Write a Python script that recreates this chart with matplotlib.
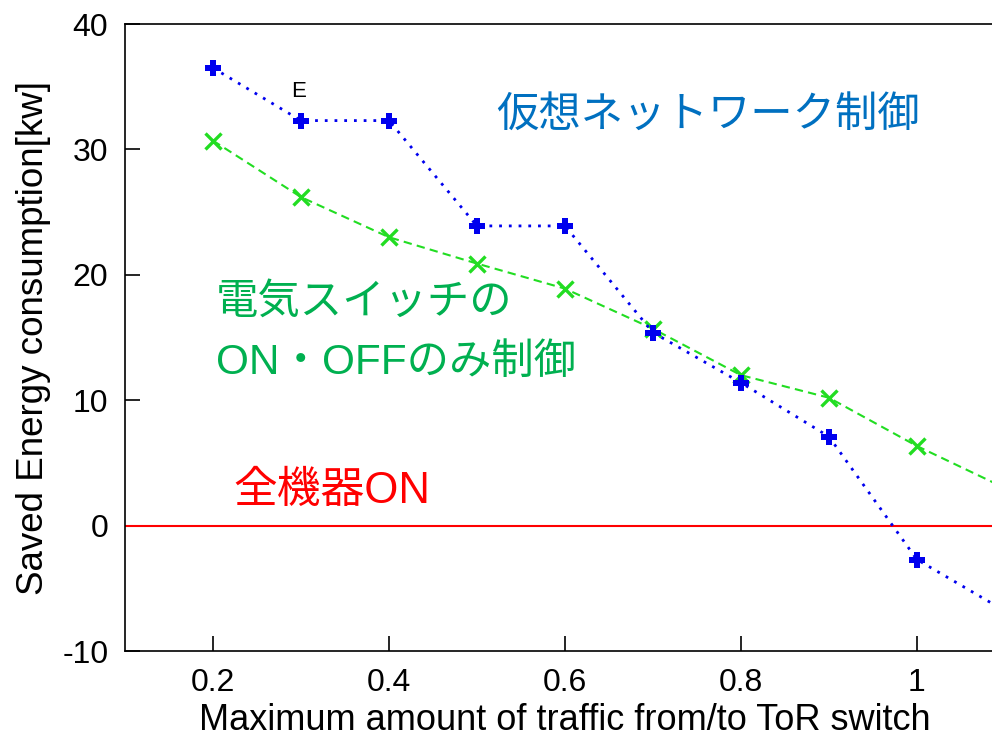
import numpy as np
import matplotlib.pyplot as plt

plt.rcParams['font.family'] = ['Liberation Sans', 'Noto Sans CJK JP', 'DejaVu Sans']
plt.rcParams['axes.unicode_minus'] = False

# データ
traffic = [0.2, 0.3, 0.4, 0.5, 0.6, 0.7, 0.8, 0.9, 1.0, 1.1]
virtual_net = [36.5, 32.3, 32.3, 23.9, 23.9, 15.4, 11.4, 7.1, -2.7, -6.8]
switch_only = [30.7, 26.2, 23.0, 20.9, 18.9, 15.7, 12.0, 10.2, 6.35, 3.0]
all_on = [0, 0]
all_on_x = [0.1, 1.1]
xticks = [0.2, 0.4, 0.6, 0.8, 1.0]
xtick_labels = ['0.2', '0.4', '0.6', '0.8', '1']
yticks = [-10, 0, 10, 20, 30, 40]

fig = plt.figure(figsize=(9.92, 7.39), dpi=100)
ax = fig.add_axes([0.126, 0.119, 0.887, 0.8485])

ax.plot(all_on_x, all_on, color='#ff0000', lw=1.5)
ax.plot(traffic, switch_only, color='#22dd22', ls=(0, (4, 2.5)), lw=1.5,
        marker='x', ms=11, mew=2.4)
ax.plot(traffic, virtual_net, color='#0000ee', ls=(0, (1, 2.5)), lw=2,
        marker='P', ms=11, mew=0)

ax.set_xlim(0.1, 1.1)
ax.set_ylim(-10, 40)
ax.set_xticks(xticks)
ax.set_xticklabels(xtick_labels)
ax.set_yticks(yticks)
ax.tick_params(direction='in', length=11, width=1.2, labelsize=23, pad=12)
for s in ax.spines.values():
    s.set_linewidth(1.2)

ax.set_xlabel('Maximum amount of traffic from/to ToR switch', fontsize=26, labelpad=4)
ax.set_ylabel('Saved Energy consumption[kw]', fontsize=26.5, labelpad=8)

ax.text(0.297, 34.6, 'E', fontsize=16, ha='center', va='center')

ax.text(0.522, 32.7, '仮想ネットワーク制御', color='#0070c0', fontsize=30.5,
        va='center', ha='left')
ax.text(0.203, 17.8, '電気スイッチの', color='#00b050', fontsize=30.5,
        va='center', ha='left')
ax.text(0.203, 13.0, 'ON・OFFのみ制御', color='#00b050', fontsize=30.5,
        va='center', ha='left')
ax.text(0.223, 2.7, '全機器ON', color='#ff0000', fontsize=31.5,
        va='center', ha='left')

fig.savefig('out.png', dpi=100)
